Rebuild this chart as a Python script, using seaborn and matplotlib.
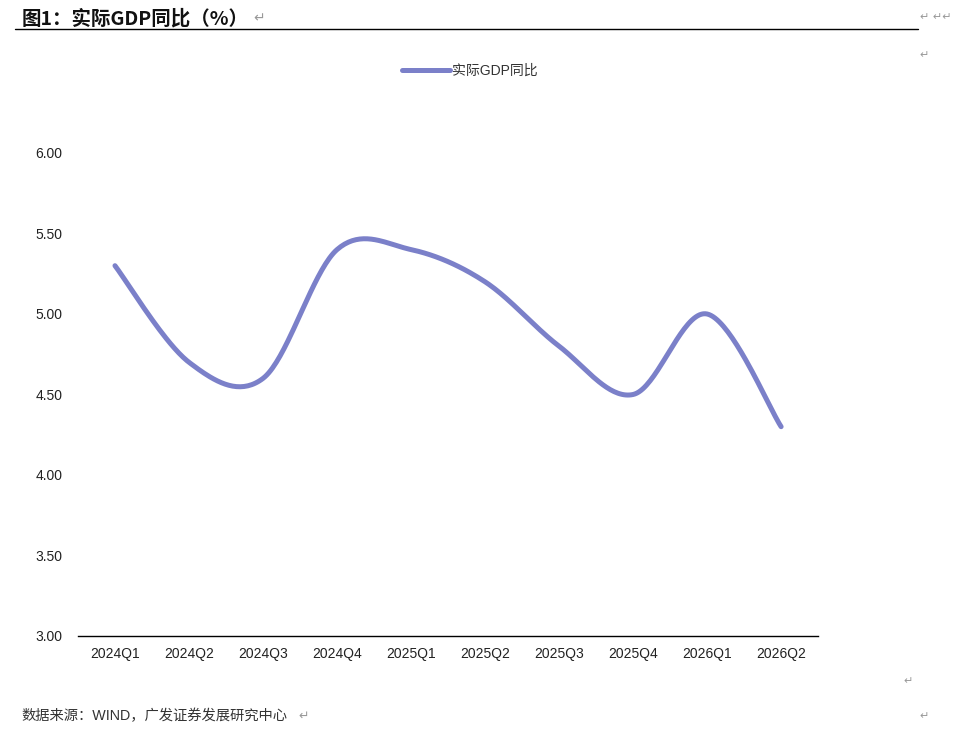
import numpy as np
import pandas as pd
import matplotlib
matplotlib.use("Agg")
import matplotlib.pyplot as plt
import seaborn as sns

# data
quarters = ["2024Q1", "2024Q2", "2024Q3", "2024Q4", "2025Q1",
            "2025Q2", "2025Q3", "2025Q4", "2026Q1", "2026Q2"]
gdp_yoy = [5.3, 4.7, 4.6, 5.4, 5.4, 5.2, 4.8, 4.5, 5.0, 4.3]
y_ticks = [3.0, 3.5, 4.0, 4.5, 5.0, 5.5, 6.0]

series_name = "实际GDP同比"
line_color = "#7b80c9"

sns.set_theme(style="white")
plt.rcParams["font.family"] = ["Liberation Sans", "Noto Sans CJK SC", "DejaVu Sans"]


def smooth_curve(xs, ys, n=40):
    """Excel-like smoothed line: cubic Bezier with Catmull-Rom control points."""
    pts = np.column_stack([xs, ys]).astype(float)
    padded = np.vstack([pts[0], pts, pts[-1]])
    out = []
    t = np.linspace(0, 1, n)[:, None]
    for i in range(len(pts) - 1):
        p0, p3 = padded[i + 1], padded[i + 2]
        c1 = p0 + (padded[i + 2] - padded[i]) / 6
        c2 = p3 - (padded[i + 3] - padded[i + 1]) / 6
        seg = ((1 - t) ** 3) * p0 + 3 * ((1 - t) ** 2) * t * c1 \
            + 3 * (1 - t) * t ** 2 * c2 + t ** 3 * p3
        out.append(seg if i == 0 else seg[1:])
    curve = np.vstack(out)
    return pd.DataFrame({"x": curve[:, 0], "y": curve[:, 1]})


fig = plt.figure(figsize=(9.65, 7.31), dpi=100)
ax = fig.add_axes([0.0808, 0.13, 0.767, 0.6607])

curve = smooth_curve(np.arange(len(quarters)), gdp_yoy)
sns.lineplot(data=curve, x="x", y="y", ax=ax, color=line_color, linewidth=3.6,
             sort=False, estimator=None, solid_capstyle="round", label=series_name)

ax.set_xlim(-0.5, len(quarters) - 0.5)
ax.set_ylim(3.0, 6.0)
ax.set_xticks(range(len(quarters)))
ax.set_xticklabels(quarters, fontsize=10, color="#222222")
ax.set_yticks(y_ticks)
ax.set_yticklabels([f"{v:.2f}" for v in y_ticks], fontsize=10, color="#222222")
ax.tick_params(axis="both", length=0, pad=8)
ax.tick_params(axis="y", pad=11)
ax.set_xlabel("")
ax.set_ylabel("")
for side in ["top", "right", "left"]:
    ax.spines[side].set_visible(False)
ax.spines["bottom"].set_color("#000000")
ax.spines["bottom"].set_linewidth(1.0)
ax.grid(False)

leg = ax.legend(loc="center", bbox_to_anchor=(0.53, 1.171), frameon=False,
                fontsize=10, handlelength=3.4, handletextpad=0.2)
for txt in leg.get_texts():
    txt.set_color("#333333")

# page-style title, rule and footnote
fig.text(0.022, 0.988, "图1：实际GDP同比（%）", fontsize=14, fontweight="bold",
         va="top", ha="left", color="#111111",
         family=["Noto Sans CJK SC", "DejaVu Sans"])
fig.text(0.262, 0.984, "↵", fontsize=10, va="top", color="#999999",
         family="DejaVu Sans")
fig.add_artist(plt.Line2D([0.016, 0.951], [0.960, 0.960], color="black",
                          linewidth=1.0, transform=fig.transFigure))
fig.text(0.953, 0.984, "↵ ↵↵", fontsize=8, va="top", color="#999999",
         family="DejaVu Sans")
fig.text(0.953, 0.932, "↵", fontsize=8, va="top", color="#999999",
         family="DejaVu Sans")
fig.text(0.936, 0.075, "↵", fontsize=8, va="top", color="#999999",
         family="DejaVu Sans")
fig.text(0.022, 0.020, "数据来源：WIND，广发证券发展研究中心", fontsize=10.3,
         va="center", ha="left", color="#333333")
fig.text(0.309, 0.020, "↵", fontsize=9, va="center", color="#999999",
         family="DejaVu Sans")
fig.text(0.953, 0.020, "↵", fontsize=8, va="center", color="#999999",
         family="DejaVu Sans")

fig.savefig("out.png", dpi=100)
